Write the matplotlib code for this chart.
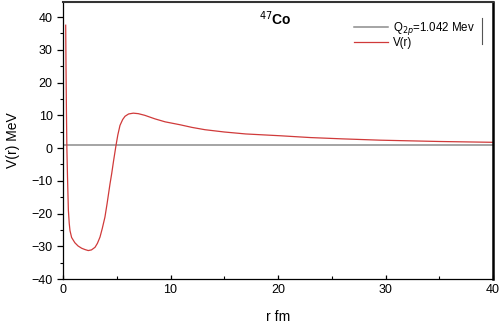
import matplotlib
matplotlib.use("Agg")
import matplotlib.pyplot as plt
from matplotlib.ticker import MultipleLocator

plt.rcParams['font.family'] = ['Liberation Sans', 'DejaVu Sans']

# values
r_fm = [0.25, 0.28, 0.32, 0.36, 0.42, 0.5, 0.58, 0.65, 0.8, 1.1, 1.4, 1.74, 2.05,
        2.35, 2.65, 2.98, 3.2, 3.44, 3.65, 3.9, 4.1, 4.37, 4.53, 4.7, 4.93, 5.1,
        5.3, 5.55, 5.77, 6.1, 6.54, 7.0, 7.6, 8.56, 9.5, 10.9, 12, 13.2, 15, 17,
        20.2, 23, 26, 29.5, 35, 40]
v_mev = [37.5, 25, 11, 0, -9, -19, -23, -25.2, -27.3, -28.9, -29.9, -30.6, -31.0,
         -31.3, -31.1, -30.3, -29.1, -27.2, -24.6, -21.1, -17.0, -11.0, -7.8, -4.0, 0.8, 4.0,
         6.9, 8.7, 9.7, 10.4, 10.65, 10.5, 10.0, 8.9, 8.0, 7.1, 6.3, 5.6, 4.9, 4.3,
         3.75, 3.2, 2.8, 2.4, 2.0, 1.75]
q_2p = 1.042
nucleus = r'$^{47}$Co'

fig = plt.figure(figsize=(5, 3.26), dpi=100)
ax = fig.add_axes([0.126, 0.144, 0.86, 0.85])

ax.axhline(q_2p, color='#8c8c8c', lw=1.1, label=r'Q$_{2p}$=1.042 Mev')
ax.plot(r_fm, v_mev, color='#d03a3a', lw=0.9, label='V(r)')

ax.set_xlim(0, 40)
ax.set_ylim(-40, 44.6)
ax.xaxis.set_major_locator(MultipleLocator(10))
ax.xaxis.set_minor_locator(MultipleLocator(5))
ax.yaxis.set_major_locator(MultipleLocator(10))
ax.yaxis.set_minor_locator(MultipleLocator(5))
ax.tick_params(axis='y', which='major', direction='out', length=4, width=0.9, labelsize=9)
ax.tick_params(axis='y', which='minor', direction='out', length=2.5, width=0.8)
ax.tick_params(axis='x', which='major', direction='in', length=3, width=0.9, labelsize=9)
ax.tick_params(axis='x', which='minor', direction='in', length=2, width=0.8)

ax.spines['right'].set_linewidth(1.8)
ax.spines['top'].set_linewidth(1.5)
ax.spines['top'].set_color('#333333')
ax.spines['left'].set_linewidth(0.9)
ax.spines['bottom'].set_linewidth(0.9)

ax.set_xlabel('r fm', fontsize=10, labelpad=10)
ax.set_ylabel('V(r) MeV', fontsize=10, labelpad=8)

ax.text(0.493, 0.94, nucleus, transform=ax.transAxes, ha='center', va='center',
        fontsize=10, fontweight='bold')

leg = ax.legend(loc='upper right', bbox_to_anchor=(0.977, 0.965), frameon=False,
                fontsize=8.3, handlelength=2.9, handletextpad=0.45, labelspacing=0.0,
                borderpad=0.2)
ax.plot([0.974, 0.974], [0.85, 0.943], transform=ax.transAxes, color='#555555', lw=0.8)

fig.savefig('out.png', dpi=100)
